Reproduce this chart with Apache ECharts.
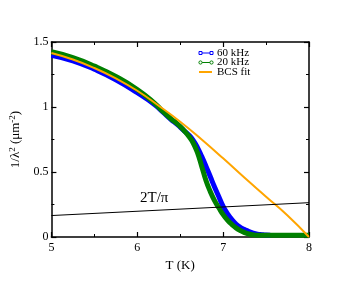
<!DOCTYPE html>
<html><head><meta charset="utf-8">
<script src="https://cdn.jsdelivr.net/npm/echarts@6/dist/echarts.min.js"></script>
<style>html,body{margin:0;padding:0;background:#fff}#c{width:363px;height:281px}</style>
</head><body><div id="c"></div>
<script>
// Data
var T60 = [5.0, 5.25, 5.5, 5.75, 6.0, 6.2, 6.3, 6.4, 6.45, 6.5, 6.55, 6.6, 6.65, 6.7, 6.75, 6.8, 6.85, 6.9, 6.95, 7.0, 7.05, 7.1, 7.15, 7.2, 7.25, 7.3, 7.35, 7.4, 7.45, 7.5, 7.55];
var v60 = [1.398, 1.355, 1.29, 1.21, 1.11, 1.02, 0.96, 0.90, 0.875, 0.845, 0.815, 0.785, 0.745, 0.69, 0.62, 0.545, 0.465, 0.385, 0.31, 0.235, 0.18, 0.135, 0.10, 0.075, 0.058, 0.042, 0.03, 0.022, 0.018, 0.015, 0.014];
var T20 = [5.0, 5.25, 5.5, 5.75, 6.0, 6.2, 6.3, 6.4, 6.45, 6.5, 6.55, 6.6, 6.65, 6.7, 6.75, 6.8, 6.85, 6.9, 6.95, 7.0, 7.05, 7.1, 7.15, 7.2, 7.25, 7.3, 7.35, 7.4, 7.5, 8.0];
var v20 = [1.425, 1.38, 1.315, 1.235, 1.135, 1.03, 0.965, 0.905, 0.88, 0.85, 0.815, 0.775, 0.725, 0.65, 0.545, 0.435, 0.35, 0.28, 0.225, 0.172, 0.13, 0.097, 0.07, 0.05, 0.034, 0.023, 0.017, 0.014, 0.013, 0.013];
var Tbcs = [5.0, 5.25, 5.5, 5.75, 6.0, 6.25, 6.5, 6.75, 7.0, 7.25, 7.5, 7.75, 8.0];
var vbcs = [1.415, 1.365, 1.30, 1.22, 1.125, 1.01, 0.887, 0.75, 0.605, 0.455, 0.31, 0.165, 0.0];
var Tline = [5, 8];
var vline = [0.165, 0.264];
var xTicks = [5, 6, 7, 8];
var yTicks = [0, 0.5, 1, 1.5];
var legendNames = ['60 kHz', '20 kHz', 'BCS fit'];
var colors = ['#0000ff', '#008000', '#ffa500'];

function pairs(xs, ys) { return xs.map(function (x, i) { return [x, ys[i]]; }); }

var FONT = 'Liberation Serif';
var chart = echarts.init(document.getElementById('c'), null, { renderer: 'canvas' });

function xAx(pos, showLabel) {
  return {
    type: 'value', position: pos, min: xTicks[0], max: xTicks[xTicks.length - 1], interval: 1,
    axisLine: { show: true, onZero: false, lineStyle: { color: '#000', width: 1.5 } },
    axisTick: { show: true, inside: true, length: 5, lineStyle: { color: '#000', width: 1.2 } },
    minorTick: { show: true, splitNumber: 2, length: 3, lineStyle: { color: '#000', width: 1 } },
    splitLine: { show: false },
    axisLabel: { show: showLabel, color: '#000', fontFamily: FONT, fontSize: 12, margin: 5 },
    name: showLabel ? 'T (K)' : '', nameLocation: 'middle', nameGap: 19,
    nameTextStyle: { color: '#000', fontFamily: FONT, fontSize: 13 }
  };
}
function yAx(pos, showLabel) {
  return {
    type: 'value', position: pos, min: yTicks[0], max: yTicks[yTicks.length - 1], interval: 0.5,
    axisLine: { show: true, onZero: false, lineStyle: { color: '#000', width: 1.5 } },
    axisTick: { show: true, inside: true, length: 5, lineStyle: { color: '#000', width: 1.2 } },
    minorTick: { show: true, splitNumber: 2, length: 3, lineStyle: { color: '#000', width: 1 } },
    splitLine: { show: false },
    axisLabel: { show: showLabel, color: '#000', fontFamily: FONT, fontSize: 12, margin: 3 },
    name: showLabel ? '{a|1/λ}{s|2}{a| (μm}{s|-2}{a|)}' : '', nameLocation: 'middle', nameGap: 22, nameRotate: 90,
    nameTextStyle: {
      color: '#000', fontFamily: FONT, fontSize: 13,
      rich: {
        a: { fontFamily: FONT, fontSize: 13, color: '#000' },
        s: { fontFamily: FONT, fontSize: 9, color: '#000', padding: [0, 0, 7, 0] }
      }
    }
  };
}

// legend drawn as graphic elements (icons + serif text)
var legendRows = [53, 62.5, 72];
var legendGraphic = [];
legendRows.forEach(function (cy, i) {
  var c = colors[i];
  if (i === 2) {
    legendGraphic.push({ type: 'line', shape: { x1: 199, y1: cy, x2: 212, y2: cy }, style: { stroke: c, lineWidth: 2 } });
  } else {
    legendGraphic.push({ type: 'line', shape: { x1: 201, y1: cy, x2: 211, y2: cy }, style: { stroke: c, lineWidth: 1 } });
    if (i === 0) {
      legendGraphic.push({ type: 'rect', shape: { x: 199, y: cy - 1.5, width: 3, height: 3 }, style: { stroke: c, fill: '#fff', lineWidth: 1 } });
      legendGraphic.push({ type: 'rect', shape: { x: 210, y: cy - 1.5, width: 3, height: 3 }, style: { stroke: c, fill: '#fff', lineWidth: 1 } });
    } else {
      legendGraphic.push({ type: 'circle', shape: { cx: 200.5, cy: cy, r: 1.6 }, style: { stroke: c, fill: '#fff', lineWidth: 1 } });
      legendGraphic.push({ type: 'circle', shape: { cx: 211.5, cy: cy, r: 1.6 }, style: { stroke: c, fill: '#fff', lineWidth: 1 } });
    }
  }
  legendGraphic.push({ type: 'text', x: 217, y: cy, style: { text: legendNames[i], fontFamily: FONT, fontSize: 11, fill: '#000', verticalAlign: 'middle', align: 'left' } });
});

chart.setOption({
  animation: false,
  backgroundColor: '#fff',
  grid: { left: 42, right: 54, top: 42, bottom: 44, containLabel: false },
  xAxis: [xAx('bottom', true), xAx('top', false)],
  yAxis: [yAx('left', true), yAx('right', false)],
  graphic: legendGraphic.concat([{
    type: 'text', left: 140, top: 191,
    style: { text: '2T/π', fontFamily: FONT, fontSize: 15, fill: '#000' }
  }]),
  series: [
    { name: legendNames[0], type: 'line', smooth: true, symbol: 'none', data: pairs(T60, v60),
      itemStyle: { color: colors[0] }, lineStyle: { color: colors[0], width: 5 } },
    { name: legendNames[1], type: 'line', smooth: true, symbol: 'none', data: pairs(T20, v20),
      itemStyle: { color: colors[1] }, lineStyle: { color: colors[1], width: 5 } },
    { name: legendNames[2], type: 'line', smooth: true, symbol: 'none', data: pairs(Tbcs, vbcs),
      itemStyle: { color: colors[2] }, lineStyle: { color: colors[2], width: 2 } },
    { name: '2T/π', type: 'line', symbol: 'none', data: pairs(Tline, vline),
      itemStyle: { color: '#000' }, lineStyle: { color: '#000', width: 1 } }
  ]
});
</script></body></html>
